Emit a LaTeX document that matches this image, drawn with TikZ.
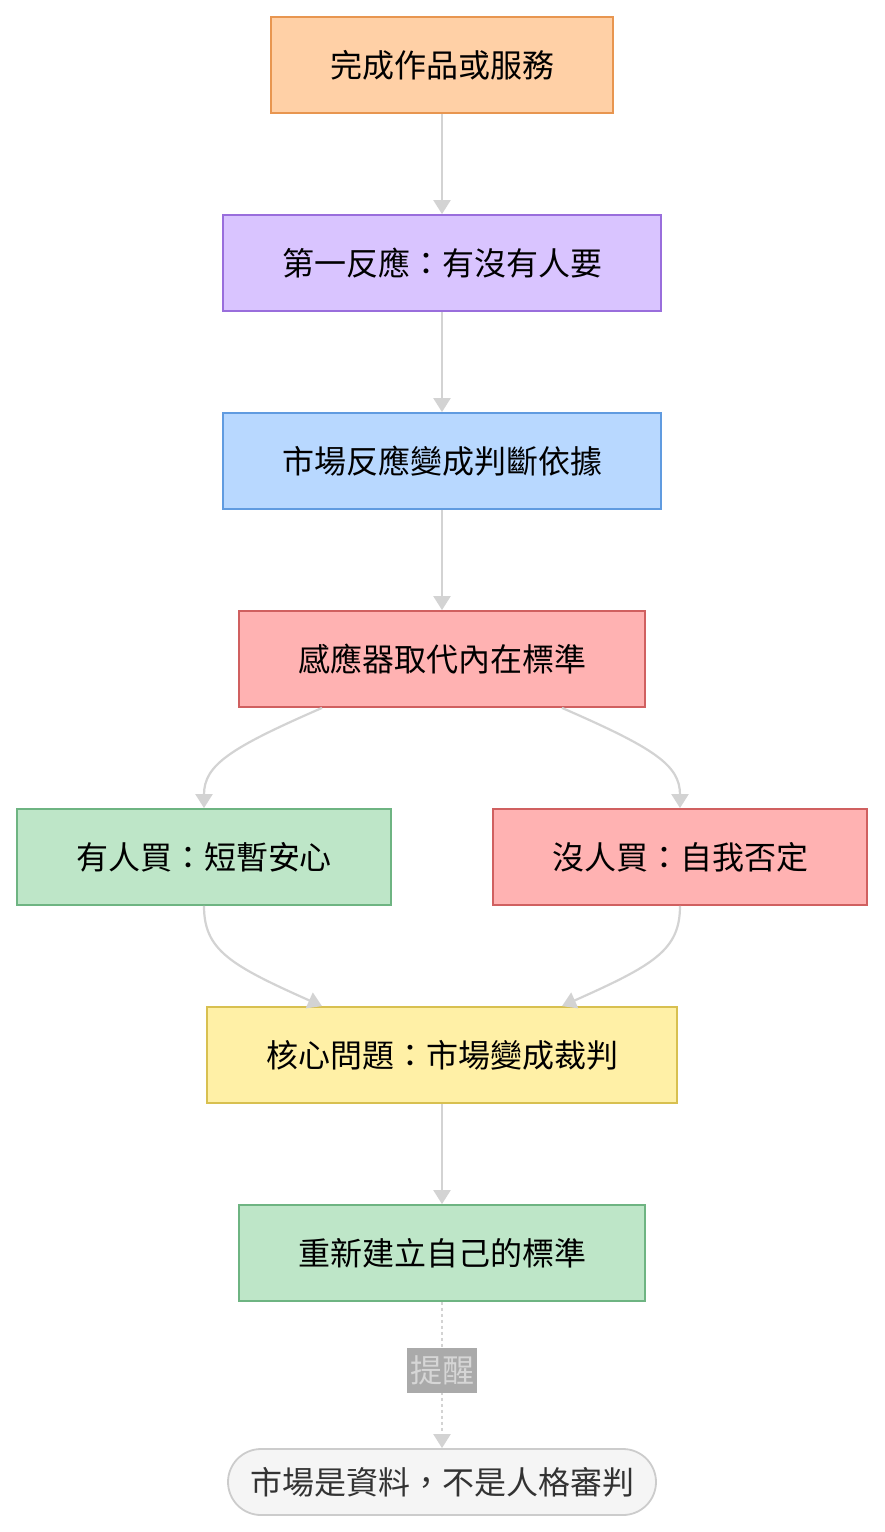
\documentclass[tikz,border=0pt]{standalone}
\usepackage{fontspec}
\setmainfont{Noto Sans CJK TC}
\usetikzlibrary{arrows.meta}
\definecolor{orF}{RGB}{255,208,166}\definecolor{orD}{RGB}{232,150,80}
\definecolor{puF}{RGB}{217,196,255}\definecolor{puD}{RGB}{153,110,220}
\definecolor{blF}{RGB}{184,216,255}\definecolor{blD}{RGB}{96,155,224}
\definecolor{reF}{RGB}{255,178,178}\definecolor{reD}{RGB}{208,96,96}
\definecolor{grF}{RGB}{190,230,200}\definecolor{grD}{RGB}{110,180,130}
\definecolor{yeF}{RGB}{255,240,166}\definecolor{yeD}{RGB}{216,192,80}
\definecolor{gyF}{RGB}{245,245,245}\definecolor{gyD}{RGB}{204,204,204}
\definecolor{gyT}{RGB}{51,51,51}
\definecolor{lnC}{RGB}{211,211,211}
\definecolor{lbF}{RGB}{170,170,170}\definecolor{lbT}{RGB}{214,214,214}
\tikzset{
  box/.style={draw, line width=1.8pt, rectangle, minimum height=96pt, inner sep=0pt,
    font=\fontsize{32}{38}\selectfont, text=black},
  conn/.style={draw=lnC, line width=2.2pt, -{Triangle[length=14pt,width=17pt]}, fill=none},
}
\begin{document}
\begin{tikzpicture}[x=1pt,y=-1pt]
\useasboundingbox (0,0) rectangle (884,1532);
\node[box, fill=orF, draw=orD, minimum width=342pt] (n1) at (442,65) {完成作品或服務};
\node[box, fill=puF, draw=puD, minimum width=438pt] (n2) at (442,263) {第一反應：有沒有人要};
\node[box, fill=blF, draw=blD, minimum width=438pt] (n3) at (442,461) {市場反應變成判斷依據};
\node[box, fill=reF, draw=reD, minimum width=406pt] (n4) at (442,659) {感應器取代內在標準};
\node[box, fill=grF, draw=grD, minimum width=374pt] (n5) at (204,857) {有人買：短暫安心};
\node[box, fill=reF, draw=reD, minimum width=374pt] (n6) at (680,857) {沒人買：自我否定};
\node[box, fill=yeF, draw=yeD, minimum width=470pt] (n7) at (442,1055) {核心問題：市場變成裁判};
\node[box, fill=grF, draw=grD, minimum width=406pt] (n8) at (442,1253) {重新建立自己的標準};
\node[draw=gyD, fill=gyF, line width=1.8pt, rounded corners=33pt, minimum width=428pt,
  minimum height=66pt, inner sep=0pt, text=gyT, font=\fontsize{32}{38}\selectfont] (n9) at (442,1482) {市場是資料，不是人格審判};

\path[conn] (n1) -- (n2);
\path[conn] (n2) -- (n3);
\path[conn] (n3) -- (n4);
\path[conn] (n4.south -| 322,0) .. controls (230,748) and (204,765) .. (n5.north);
\path[conn] (n4.south -| 562,0) .. controls (654,748) and (680,765) .. (n6.north);
\path[conn] (n5.south) .. controls (204,950) and (230,965) .. (n7.north -| 322,0);
\path[conn] (n6.south) .. controls (680,950) and (654,965) .. (n7.north -| 562,0);
\path[conn] (n7) -- (n8);
\path[conn, dash pattern=on 3pt off 3pt] (n8) -- (n9)
  node[pos=0.47, solid, fill=lbF, text=lbT, inner xsep=3pt, inner ysep=0pt, minimum height=45pt,
    font=\fontsize{32}{38}\selectfont] (lb) {提醒};
\end{tikzpicture}
\end{document}
